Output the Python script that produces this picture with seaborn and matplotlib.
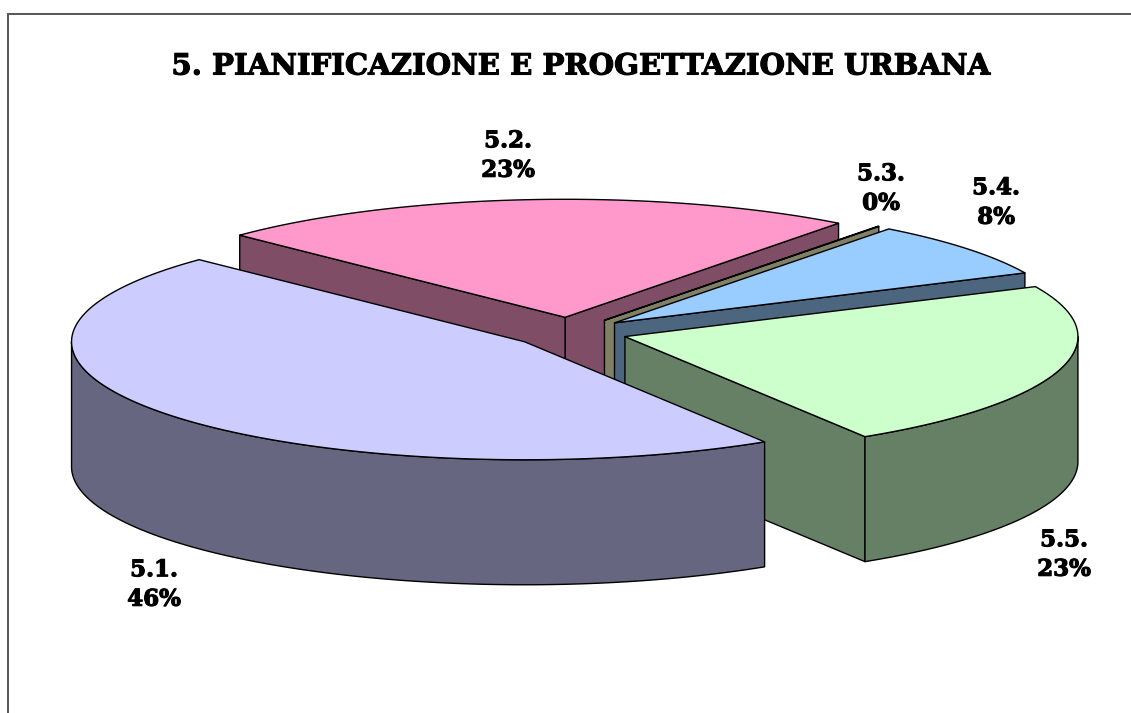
import numpy as np
import matplotlib
matplotlib.use("Agg")
import matplotlib.pyplot as plt
import matplotlib.patheffects as pe
from matplotlib.patches import Polygon
import seaborn as sns

TITLE = "5. PIANIFICAZIONE E PROGETTAZIONE URBANA"
categories = ["5.1.", "5.2.", "5.3.", "5.4.", "5.5."]
values = [6, 3, 0.005, 1, 3]
percent_labels = ["46%", "23%", "0%", "8%", "23%"]
top_colors = ["#CCCCFF", "#FF99CC", "#FFFFCC", "#99CCFF", "#CCFFCC"]
side_colors = ["#666680", "#804D66", "#808066", "#4D6680", "#668066"]

# pixel layout of the fake 3d pie
CENTER = (569.5, 332.3)
RX, RY = 453, 118
DEPTH = 125
EXPLODE = 0.1276
FIRST_ANGLE = 302
LABEL_POS = [(154, 585), (508, 156), (881, 189), (996, 203), (1064, 555)]

sns.set_theme(style="white")
plt.rcParams["font.family"] = ["DejaVu Serif"]
top_pal = sns.color_palette(top_colors)
side_pal = sns.color_palette(side_colors)


def rim(angles, apex):
    t = np.radians(angles)
    return np.column_stack([apex[0] + RX * np.cos(t), apex[1] - RY * np.sin(t)])


def extrude(points):
    # wall hanging below a run of top points
    low = points[::-1] + [0, DEPTH]
    return np.vstack([points, low])


def front_part(a1, a2):
    # bit of the arc facing the viewer (sin < 0)
    for lo, hi in [(-180, 0), (180, 360)]:
        s, e = max(a1, lo), min(a2, hi)
        if e > s:
            return s, e
    return None


fig, ax = plt.subplots(figsize=(11.31, 7.13), dpi=100)
fig.subplots_adjust(0, 0, 1, 1)
ax.set_xlim(0, 1131)
ax.set_ylim(713, 0)
ax.axis("off")

sweeps = np.array(values) / sum(values) * 360
ends = FIRST_ANGLE - np.cumsum(sweeps)
starts = ends + sweeps
mids = (starts + ends) / 2

# back slices first
order = np.argsort(-np.sin(np.radians(mids)))
edge = dict(edgecolor="black", linewidth=1.0, joinstyle="round")

for i in order:
    a1, a2 = ends[i], starts[i]
    m = np.radians(mids[i])
    apex = np.array([CENTER[0] + EXPLODE * RX * np.cos(m), CENTER[1] - EXPLODE * RY * np.sin(m)])

    # radial walls, only the ones turned to the viewer
    for ang, visible in [(a1, np.cos(np.radians(a1)) > 0), (a2, np.cos(np.radians(a2)) < 0)]:
        if visible:
            line = np.vstack([apex, rim([ang], apex)])
            ax.add_patch(Polygon(extrude(line), facecolor=side_pal[i], **edge))

    # outer wall
    part = front_part(a1, a2)
    if part is not None:
        arc = rim(np.linspace(part[0], part[1], 120), apex)
        ax.add_patch(Polygon(extrude(arc), facecolor=side_pal[i], **edge))

    # top
    arc = rim(np.linspace(a1, a2, 200), apex)
    ax.add_patch(Polygon(np.vstack([apex, arc]), facecolor=top_pal[i], **edge))

# the original face is heavier than DejaVu Serif Bold, so thicken it a little
heavy = [pe.withStroke(linewidth=0.8, foreground="black")]

for name, pct, pos in zip(categories, percent_labels, LABEL_POS):
    ax.text(pos[0], pos[1], name + "\n" + pct, ha="center", va="center",
            fontsize=16.5, fontweight="bold", color="black", linespacing=1.44,
            path_effects=heavy)

ax.text(580, 66, TITLE, ha="center", va="center", fontsize=21, fontweight="bold",
        color="black", path_effects=heavy)

# chart frame, cut by the picture edge on the right and bottom
ax.plot([8, 8, 1131], [713, 14, 14], color="#555555", linewidth=1.4, solid_joinstyle="miter")

fig.savefig("out.png", dpi=100, facecolor="white")
